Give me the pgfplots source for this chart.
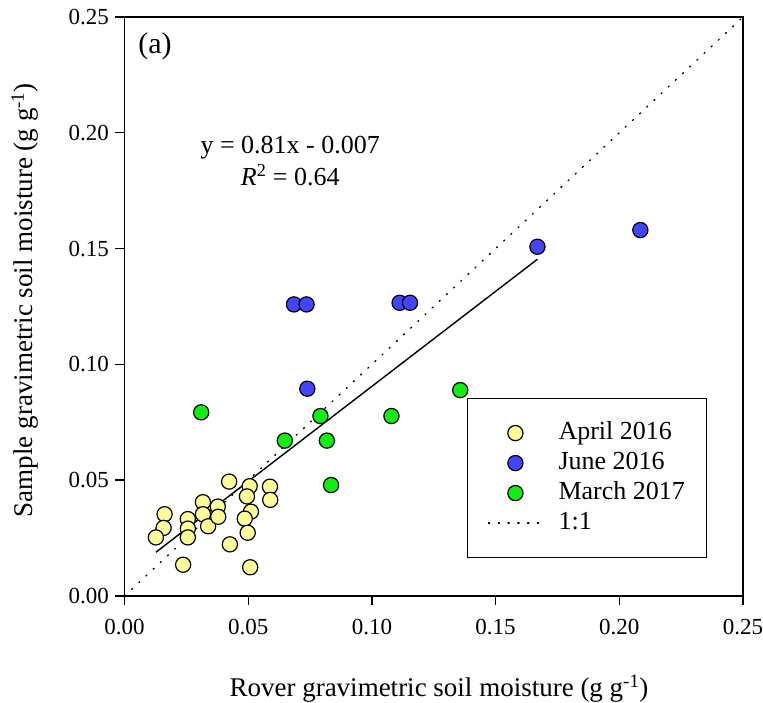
\documentclass[border=0pt]{standalone}
\usepackage{fontspec}
\setmainfont{Liberation Serif}
\usepackage{pgfplots}
\pgfplotsset{compat=1.18}

\definecolor{aprilc}{RGB}{255,255,153}
\definecolor{junec}{RGB}{68,68,255}
\definecolor{marchc}{RGB}{17,238,17}

\pgfplotsset{
  soilpt/.style={draw=none, mark=*, mark size=7.6pt,
    mark options={draw=black, line width=1.2pt, fill=#1}},
  linelegend/.style={legend image code/.code={\draw[##1] (0pt,0pt) -- (54pt,0pt);}},
}

\begin{document}
\begin{tikzpicture}
\useasboundingbox (-124.5pt,-107pt) rectangle (638.5pt,596pt);
\begin{axis}[
  at={(0pt,0pt)}, anchor=south west,
  scale only axis, width=618.5pt, height=579pt,
  xmin=0, xmax=0.25, ymin=0, ymax=0.25,
  xtick={0,0.05,0.10,0.15,0.20,0.25},
  ytick={0,0.05,0.10,0.15,0.20,0.25},
  xtick pos=bottom, ytick pos=left,
  tick align=outside, major tick length=9pt,
  axis line style={line width=1.4pt},
  every tick/.style={black, line width=1.4pt},
  /pgf/number format/assume math mode=true,
  /pgf/number format/.cd, fixed, fixed zerofill, precision=2, /pgfplots/.cd,
  ticklabel style={font=\fontsize{23}{23}\selectfont},
  xticklabel style={yshift=-11pt},
  yticklabel style={xshift=-3pt},
  xlabel={Rover gravimetric soil moisture (g g\textsuperscript{-1})},
  ylabel={Sample gravimetric soil moisture (g g\textsuperscript{-1})},
  label style={font=\fontsize{27}{27}\selectfont},
  xlabel style={at={(axis description cs:0.5085,-0.1744)}, anchor=base},
  ylabel style={at={(axis description cs:-0.148,0.511)}, anchor=base},
  % marker entries: a single mark centred in a 54pt wide cell
  legend image code/.code={\path (0pt,0pt) -- (54pt,0pt);
     \draw[#1, draw=none] plot coordinates {(27pt,0pt)};},
  legend cell align=left,
  legend style={at={(0.554,0.342)}, anchor=north west,
    draw=black, line width=1.2pt,
    font=\fontsize{26}{26}\selectfont,
    inner xsep=20pt, inner ysep=21pt, row sep=3pt,
    nodes={inner sep=1.5pt, text height=18pt, text depth=6pt},
    /tikz/every odd column/.append style={column sep=14pt}},
  clip=false,
]
% April 2016
\addplot[soilpt=aprilc] coordinates {
  (0.0162,0.0353) (0.0158,0.0294) (0.0127,0.0253) (0.0256,0.0332)
  (0.0256,0.0291) (0.0256,0.0253) (0.0237,0.0135) (0.0317,0.0405)
  (0.0317,0.0353) (0.0338,0.0301) (0.0377,0.0386) (0.0379,0.0342)
  (0.0423,0.0494) (0.0426,0.0223) (0.0506,0.0474) (0.0495,0.0430)
  (0.0511,0.0364) (0.0486,0.0334) (0.0498,0.0273) (0.0508,0.0124)
  (0.0588,0.0472) (0.0589,0.0415)
};
\addlegendentry{April 2016}
% June 2016
\addplot[soilpt=junec] coordinates {
  (0.0685,0.1259) (0.0736,0.1259) (0.1112,0.1266) (0.1154,0.1266)
  (0.0739,0.0895) (0.1669,0.1508) (0.2085,0.1580)
};
\addlegendentry{June 2016}
% March 2017
\addplot[soilpt=marchc] coordinates {
  (0.0310,0.0793) (0.0648,0.0671) (0.0792,0.0777) (0.0818,0.0671)
  (0.0835,0.0479) (0.1357,0.0889) (0.1079,0.0777)
};
\addlegendentry{March 2017}
% 1:1 line
\addplot[black, line width=1.3pt, dash pattern=on 1.3pt off 8.5pt, line cap=round, linelegend]
  coordinates {(0,0) (0.25,0.25)};
\addlegendentry{1:1}
% regression line
\addplot[black, line width=1.4pt, forget plot] coordinates {(0.0127,0.0189) (0.1669,0.1454)};

\node[font=\fontsize{30}{30}\selectfont] at (axis cs:0.0123,0.2375) {(a)};
\node[font=\fontsize{26}{32}\selectfont, align=center] at (axis cs:0.067,0.188)
  {y = 0.81x - 0.007\\ \textit{R}\textsuperscript{2} = 0.64};
\end{axis}
\end{tikzpicture}
\end{document}
